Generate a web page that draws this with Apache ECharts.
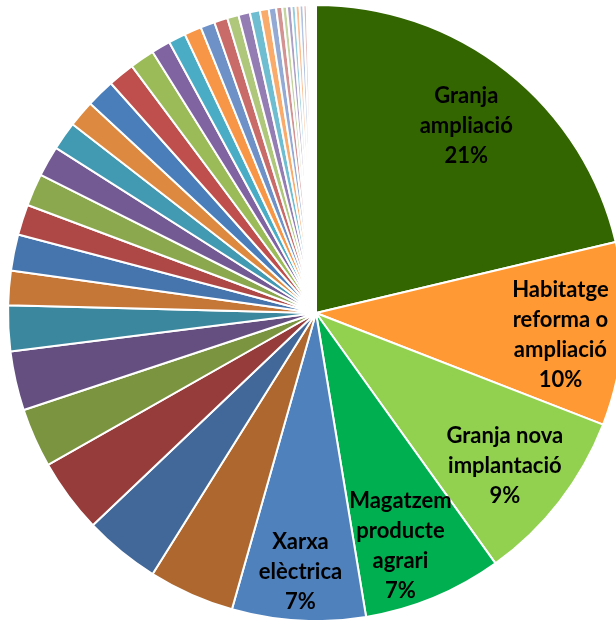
<!DOCTYPE html>
<html>
<head>
<meta charset="utf-8">
<script src="https://cdn.jsdelivr.net/npm/echarts@6/dist/echarts.min.js"></script>
<style>
html,body{margin:0;padding:0;background:#fff;}
#chart{width:616px;height:620px;}
</style>
</head>
<body>
<div id="chart"></div>
<script>
// Categories (wrapped as in the original labels)
var categories = [
  'Granja\nampliació', 'Habitatge\nreforma o\nampliació', 'Granja nova\nimplantació',
  'Magatzem\nproducte\nagrari', 'Xarxa\nelèctrica',
  'Categoria 6', 'Categoria 7', 'Categoria 8', 'Categoria 9', 'Categoria 10',
  'Categoria 11', 'Categoria 12', 'Categoria 13', 'Categoria 14', 'Categoria 15',
  'Categoria 16', 'Categoria 17', 'Categoria 18', 'Categoria 19', 'Categoria 20',
  'Categoria 21', 'Categoria 22', 'Categoria 23', 'Categoria 24', 'Categoria 25',
  'Categoria 26', 'Categoria 27', 'Categoria 28', 'Categoria 29', 'Categoria 30',
  'Categoria 31', 'Categoria 32', 'Categoria 33', 'Categoria 34', 'Categoria 35',
  'Categoria 36', 'Categoria 37', 'Categoria 38', 'Categoria 39', 'Categoria 40',
  'Categoria 41', 'Categoria 42', 'Categoria 43', 'Categoria 44'
];
// Share of each category (%)
var values = [
  21.3, 9.6, 9.2, 7.3, 7.0,
  4.5, 4.0, 3.9, 3.1, 3.1, 2.4,
  1.8, 1.9, 1.6, 1.7, 1.6, 1.5,
  1.4, 1.5, 1.4, 1.3, 1.0, 0.9,
  0.9, 0.75, 0.7, 0.6, 0.6, 0.53,
  0.46, 0.39, 0.32, 0.24, 0.24, 0.21,
  0.21, 0.2, 0.17, 0.12, 0.1, 0.09, 0.07, 0.06, 0.04
];
// Number of categories that carry a visible label
var labelledCount = 5;

var colors = [
  '#336600', '#FF9933', '#92D050', '#00B050', '#4F81BD',
  '#AD672F', '#416899', '#963C3B', '#7B943F', '#654F81', '#3B889E',
  '#C57737', '#4675AE', '#AD4846', '#8BA84F', '#735A93', '#4299B2',
  '#DD8A40', '#4A7EBB', '#BE4F4C', '#9BBB59', '#8064A2', '#4BACC6',
  '#F79646', '#6E91C8', '#C96B69', '#AFC77A', '#947DB3', '#6FBDD1',
  '#F9AB6B', '#93ABD4', '#D39392', '#C3D49E', '#ADA0C6', '#95CDDD',
  '#FBBE91', '#B1C3E0', '#E0B5B4', '#EEF3E4', '#ECE8F1', '#E6F3F7',
  '#FEEEE2', '#EAEFF7', '#F6EAEA'
];
// small label nudges (px) relative to ring placement
var labelNudge = [[2, 0], [6, 5], [0, 6], [-7, 12], [-2, 20]];

var total = values.reduce(function (a, b) { return a + b; }, 0);

var pieData = categories.map(function (c, i) {
  return { name: c, value: values[i], itemStyle: { color: colors[i] } };
});
var labelData = categories.map(function (c, i) {
  return {
    name: c, value: values[i],
    label: { show: i < labelledCount }
  };
});

var chart = echarts.init(document.getElementById('chart'), null, { renderer: 'canvas' });
chart.setOption({
  animation: false,
  series: [
    {
      type: 'pie',
      center: [316, 313],
      radius: [0, 308],
      startAngle: 90,
      clockwise: true,
      avoidLabelOverlap: false,
      silent: true,
      label: { show: false },
      labelLine: { show: false },
      itemStyle: { borderColor: '#ffffff', borderWidth: 2 },
      data: pieData
    },
    {
      type: 'pie',
      center: [316, 313],
      radius: [164, 308],
      startAngle: 90,
      clockwise: true,
      avoidLabelOverlap: false,
      silent: true,
      itemStyle: { color: 'rgba(0,0,0,0)', borderWidth: 0 },
      emphasis: { disabled: true },
      labelLine: { show: false },
      label: {
        position: 'inside',
        fontFamily: 'Lato',
        fontWeight: 'bold',
        fontSize: 22,
        lineHeight: 30,
        color: '#000000',
        align: 'center',
        formatter: function (p) {
          return p.name + '\n' + Math.round(p.value / total * 100) + '%';
        }
      },
      labelLayout: function (p) {
        var n = labelNudge[p.dataIndex] || [0, 0];
        return { dx: n[0], dy: n[1] };
      },
      data: labelData
    }
  ]
});
</script>
</body>
</html>
